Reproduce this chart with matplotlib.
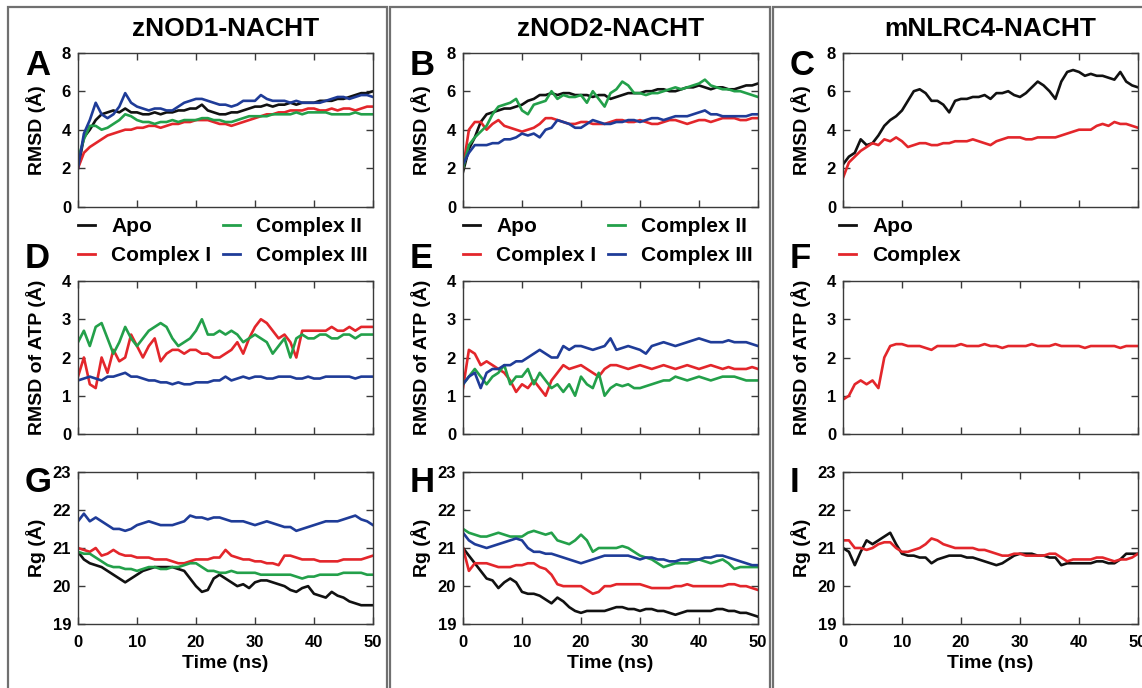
import numpy as np
import matplotlib
matplotlib.use("Agg")
import matplotlib.pyplot as plt
from matplotlib.patches import Rectangle
from matplotlib.lines import Line2D

plt.rcParams['font.family'] = ['Liberation Sans', 'DejaVu Sans']
plt.rcParams['font.weight'] = 'bold'

# ---------------- data (values read at 1 ns steps, 0..50 ns) ----------------
columns = ["zNOD1-NACHT", "zNOD2-NACHT", "mNLRC4-NACHT"]
letters = [["A", "B", "C"], ["D", "E", "F"], ["G", "H", "I"]]
ylabels = ["RMSD (Å)", "RMSD of ATP (Å)", "Rg (Å)"]
labels4 = ["Apo", "Complex I", "Complex II", "Complex III"]
labels2 = ["Apo", "Complex"]

A_apo = [2.0, 3.6, 4.0, 4.5, 4.8, 4.9, 5.0, 4.9, 5.1, 4.9, 4.9, 4.8, 4.8, 4.9, 4.8, 4.9, 4.9, 5.0, 5.0, 5.1, 5.1, 5.3, 5.0, 4.9, 4.8, 4.8, 4.9, 4.9, 5.0, 5.1, 5.2, 5.2, 5.3, 5.2, 5.3, 5.3, 5.4, 5.3, 5.4, 5.4, 5.4, 5.5, 5.5, 5.5, 5.6, 5.6, 5.7, 5.8, 5.9, 5.9, 6.0]
A_c1 = [2.0, 2.8, 3.1, 3.3, 3.5, 3.7, 3.8, 3.9, 4.0, 4.0, 4.1, 4.1, 4.2, 4.2, 4.1, 4.2, 4.3, 4.3, 4.4, 4.4, 4.5, 4.5, 4.5, 4.4, 4.3, 4.3, 4.2, 4.3, 4.4, 4.5, 4.6, 4.7, 4.8, 4.8, 4.9, 4.9, 5.0, 5.0, 5.0, 5.1, 5.1, 5.0, 5.0, 5.1, 5.0, 5.1, 5.1, 5.0, 5.1, 5.2, 5.2]
A_c2 = [2.5, 3.5, 4.2, 4.2, 4.0, 4.1, 4.3, 4.5, 4.8, 4.7, 4.5, 4.4, 4.4, 4.3, 4.4, 4.4, 4.5, 4.4, 4.5, 4.5, 4.5, 4.6, 4.6, 4.5, 4.5, 4.4, 4.4, 4.5, 4.6, 4.7, 4.7, 4.7, 4.7, 4.8, 4.8, 4.8, 4.8, 4.9, 4.8, 4.9, 4.9, 4.9, 4.9, 4.8, 4.8, 4.8, 4.8, 4.9, 4.8, 4.8, 4.8]
A_c3 = [2.0, 3.8, 4.5, 5.4, 4.8, 4.6, 4.8, 5.2, 5.9, 5.4, 5.2, 5.1, 5.0, 5.1, 5.1, 5.0, 5.0, 5.2, 5.4, 5.5, 5.6, 5.6, 5.5, 5.4, 5.3, 5.3, 5.2, 5.3, 5.5, 5.5, 5.5, 5.8, 5.6, 5.5, 5.5, 5.5, 5.4, 5.5, 5.4, 5.4, 5.4, 5.4, 5.5, 5.6, 5.7, 5.7, 5.6, 5.7, 5.8, 5.8, 5.7]

B_apo = [1.8, 3.0, 3.6, 4.4, 4.8, 4.9, 5.0, 5.1, 5.1, 5.2, 5.3, 5.5, 5.6, 5.8, 5.8, 5.9, 5.8, 5.9, 5.9, 5.8, 5.8, 5.8, 5.7, 5.8, 5.8, 5.6, 5.7, 5.8, 5.9, 5.9, 5.9, 6.0, 6.0, 6.1, 6.1, 6.0, 6.0, 6.1, 6.2, 6.2, 6.3, 6.2, 6.1, 6.2, 6.2, 6.1, 6.1, 6.2, 6.3, 6.3, 6.4]
B_c1 = [2.0, 4.0, 4.4, 4.4, 4.0, 4.3, 4.5, 4.2, 4.1, 4.0, 3.9, 4.0, 4.1, 4.3, 4.6, 4.6, 4.5, 4.4, 4.3, 4.3, 4.4, 4.4, 4.3, 4.3, 4.3, 4.4, 4.5, 4.5, 4.4, 4.4, 4.5, 4.4, 4.3, 4.3, 4.4, 4.5, 4.5, 4.4, 4.3, 4.4, 4.5, 4.5, 4.4, 4.5, 4.6, 4.6, 4.6, 4.5, 4.5, 4.6, 4.6]
B_c2 = [2.0, 3.2, 3.6, 3.9, 4.2, 4.8, 5.2, 5.3, 5.4, 5.6, 5.0, 4.8, 5.3, 5.4, 5.5, 6.0, 5.6, 5.8, 5.7, 5.7, 5.8, 5.4, 6.0, 5.6, 5.2, 5.9, 6.1, 6.5, 6.3, 5.9, 5.9, 5.8, 5.9, 5.9, 6.0, 6.1, 6.2, 6.1, 6.2, 6.3, 6.4, 6.6, 6.3, 6.2, 6.1, 6.1, 6.0, 6.0, 5.9, 5.8, 5.7]
B_c3 = [2.2, 2.8, 3.2, 3.2, 3.2, 3.3, 3.3, 3.5, 3.5, 3.6, 3.8, 3.7, 3.8, 3.6, 4.0, 4.1, 4.5, 4.4, 4.3, 4.1, 4.1, 4.3, 4.5, 4.4, 4.3, 4.3, 4.4, 4.4, 4.5, 4.5, 4.4, 4.5, 4.6, 4.6, 4.5, 4.6, 4.7, 4.7, 4.7, 4.8, 4.9, 5.0, 4.8, 4.8, 4.7, 4.7, 4.7, 4.7, 4.7, 4.8, 4.8]

C_apo = [2.2, 2.6, 2.8, 3.5, 3.2, 3.3, 3.7, 4.2, 4.5, 4.7, 5.0, 5.5, 6.0, 6.1, 5.9, 5.5, 5.5, 5.3, 4.9, 5.5, 5.6, 5.6, 5.7, 5.7, 5.8, 5.6, 5.9, 5.9, 6.0, 5.8, 5.7, 5.9, 6.2, 6.5, 6.3, 6.0, 5.6, 6.5, 7.0, 7.1, 7.0, 6.8, 6.9, 6.8, 6.8, 6.7, 6.6, 7.0, 6.5, 6.3, 6.2]
C_cx = [1.5, 2.3, 2.6, 2.9, 3.1, 3.3, 3.2, 3.5, 3.4, 3.6, 3.4, 3.1, 3.2, 3.3, 3.3, 3.2, 3.2, 3.3, 3.3, 3.4, 3.4, 3.4, 3.5, 3.4, 3.3, 3.2, 3.4, 3.5, 3.6, 3.6, 3.6, 3.5, 3.5, 3.6, 3.6, 3.6, 3.6, 3.7, 3.8, 3.9, 4.0, 4.0, 4.0, 4.2, 4.3, 4.2, 4.4, 4.3, 4.3, 4.2, 4.1]

D_c1 = [1.5, 2.0, 1.3, 1.2, 2.0, 1.6, 2.2, 1.9, 2.0, 2.6, 2.3, 2.0, 2.3, 2.5, 1.9, 2.1, 2.2, 2.2, 2.1, 2.2, 2.2, 2.1, 2.1, 2.0, 2.0, 2.1, 2.2, 2.4, 2.1, 2.5, 2.8, 3.0, 2.9, 2.7, 2.5, 2.6, 2.4, 2.0, 2.7, 2.7, 2.7, 2.7, 2.7, 2.8, 2.7, 2.7, 2.8, 2.7, 2.8, 2.8, 2.8]
D_c2 = [2.4, 2.7, 2.3, 2.8, 2.9, 2.5, 2.1, 2.4, 2.8, 2.5, 2.3, 2.5, 2.7, 2.8, 2.9, 2.8, 2.5, 2.3, 2.4, 2.5, 2.7, 3.0, 2.6, 2.6, 2.7, 2.6, 2.7, 2.6, 2.4, 2.5, 2.6, 2.5, 2.4, 2.1, 2.3, 2.5, 2.0, 2.5, 2.6, 2.5, 2.5, 2.6, 2.6, 2.5, 2.5, 2.6, 2.6, 2.5, 2.6, 2.6, 2.6]
D_c3 = [1.4, 1.45, 1.5, 1.45, 1.4, 1.5, 1.5, 1.55, 1.6, 1.5, 1.5, 1.45, 1.4, 1.4, 1.35, 1.35, 1.3, 1.35, 1.3, 1.3, 1.35, 1.35, 1.35, 1.4, 1.4, 1.5, 1.4, 1.45, 1.5, 1.45, 1.5, 1.5, 1.45, 1.45, 1.5, 1.5, 1.5, 1.45, 1.45, 1.5, 1.45, 1.45, 1.5, 1.5, 1.5, 1.5, 1.5, 1.45, 1.5, 1.5, 1.5]

E_c1 = [1.2, 2.2, 2.1, 1.8, 1.9, 1.8, 1.7, 1.6, 1.4, 1.1, 1.3, 1.2, 1.4, 1.2, 1.0, 1.4, 1.6, 1.8, 1.7, 1.75, 1.8, 1.7, 1.6, 1.5, 1.7, 1.8, 1.8, 1.75, 1.7, 1.75, 1.8, 1.75, 1.7, 1.75, 1.8, 1.75, 1.7, 1.75, 1.8, 1.75, 1.7, 1.75, 1.8, 1.75, 1.7, 1.75, 1.7, 1.7, 1.7, 1.75, 1.7]
E_c2 = [1.3, 1.5, 1.7, 1.5, 1.3, 1.5, 1.6, 1.8, 1.3, 1.5, 1.5, 1.7, 1.3, 1.6, 1.4, 1.2, 1.3, 1.1, 1.3, 1.0, 1.5, 1.3, 1.2, 1.6, 1.0, 1.2, 1.3, 1.25, 1.3, 1.2, 1.2, 1.25, 1.3, 1.35, 1.4, 1.4, 1.5, 1.45, 1.4, 1.45, 1.5, 1.45, 1.4, 1.45, 1.5, 1.5, 1.5, 1.45, 1.4, 1.4, 1.4]
E_c3 = [1.3, 1.5, 1.6, 1.2, 1.6, 1.7, 1.7, 1.8, 1.8, 1.9, 1.9, 2.0, 2.1, 2.2, 2.1, 2.0, 2.0, 2.3, 2.2, 2.3, 2.3, 2.25, 2.2, 2.25, 2.3, 2.5, 2.2, 2.25, 2.3, 2.25, 2.2, 2.1, 2.3, 2.35, 2.4, 2.35, 2.3, 2.35, 2.4, 2.45, 2.5, 2.45, 2.4, 2.4, 2.4, 2.45, 2.4, 2.4, 2.4, 2.35, 2.3]

F_cx = [0.9, 1.0, 1.3, 1.4, 1.3, 1.4, 1.2, 2.0, 2.3, 2.35, 2.35, 2.3, 2.3, 2.3, 2.25, 2.2, 2.3, 2.3, 2.3, 2.3, 2.35, 2.3, 2.3, 2.3, 2.35, 2.3, 2.3, 2.25, 2.3, 2.3, 2.3, 2.3, 2.35, 2.3, 2.3, 2.3, 2.35, 2.3, 2.3, 2.3, 2.3, 2.25, 2.3, 2.3, 2.3, 2.3, 2.3, 2.25, 2.3, 2.3, 2.3]

G_apo = [20.9, 20.7, 20.6, 20.55, 20.5, 20.4, 20.3, 20.2, 20.1, 20.2, 20.3, 20.4, 20.45, 20.5, 20.5, 20.5, 20.5, 20.45, 20.4, 20.2, 20.0, 19.85, 19.9, 20.2, 20.3, 20.2, 20.1, 20.0, 20.05, 19.95, 20.1, 20.15, 20.15, 20.1, 20.05, 20.0, 19.9, 19.85, 19.95, 20.0, 19.8, 19.75, 19.7, 19.85, 19.75, 19.7, 19.6, 19.55, 19.5, 19.5, 19.5]
G_c1 = [21.0, 20.95, 20.9, 21.0, 20.8, 20.85, 20.95, 20.85, 20.8, 20.8, 20.75, 20.75, 20.75, 20.7, 20.7, 20.7, 20.65, 20.6, 20.6, 20.65, 20.7, 20.7, 20.7, 20.75, 20.75, 20.95, 20.8, 20.75, 20.7, 20.7, 20.65, 20.65, 20.6, 20.6, 20.55, 20.8, 20.8, 20.75, 20.7, 20.7, 20.7, 20.65, 20.65, 20.65, 20.65, 20.7, 20.7, 20.7, 20.7, 20.75, 20.8]
G_c2 = [20.9, 20.85, 20.85, 20.75, 20.65, 20.55, 20.5, 20.5, 20.45, 20.45, 20.4, 20.45, 20.5, 20.5, 20.45, 20.45, 20.5, 20.5, 20.55, 20.6, 20.6, 20.5, 20.4, 20.4, 20.35, 20.35, 20.4, 20.35, 20.35, 20.35, 20.35, 20.3, 20.3, 20.3, 20.3, 20.3, 20.3, 20.25, 20.2, 20.25, 20.25, 20.3, 20.3, 20.3, 20.3, 20.35, 20.35, 20.35, 20.35, 20.3, 20.3]
G_c3 = [21.7, 21.9, 21.7, 21.8, 21.7, 21.6, 21.5, 21.5, 21.45, 21.5, 21.6, 21.65, 21.7, 21.65, 21.6, 21.6, 21.6, 21.65, 21.7, 21.85, 21.8, 21.8, 21.75, 21.8, 21.8, 21.75, 21.7, 21.7, 21.7, 21.65, 21.6, 21.65, 21.7, 21.65, 21.6, 21.55, 21.55, 21.45, 21.5, 21.55, 21.6, 21.65, 21.7, 21.7, 21.7, 21.75, 21.8, 21.85, 21.75, 21.7, 21.6]

H_apo = [21.0, 20.8, 20.6, 20.4, 20.2, 20.15, 19.95, 20.1, 20.2, 20.1, 19.85, 19.8, 19.8, 19.75, 19.65, 19.55, 19.7, 19.6, 19.45, 19.35, 19.3, 19.35, 19.35, 19.35, 19.35, 19.4, 19.45, 19.45, 19.4, 19.4, 19.35, 19.4, 19.4, 19.35, 19.35, 19.3, 19.25, 19.3, 19.35, 19.35, 19.35, 19.35, 19.35, 19.4, 19.4, 19.35, 19.35, 19.3, 19.3, 19.25, 19.2]
H_c1 = [21.0, 20.4, 20.6, 20.6, 20.6, 20.55, 20.5, 20.5, 20.5, 20.55, 20.55, 20.6, 20.6, 20.5, 20.45, 20.3, 20.05, 20.0, 20.0, 20.0, 20.0, 19.9, 19.8, 19.85, 20.0, 20.0, 20.05, 20.05, 20.05, 20.05, 20.05, 20.0, 19.95, 19.95, 19.95, 19.95, 20.0, 20.0, 20.05, 20.0, 20.0, 20.0, 20.0, 20.0, 20.0, 20.05, 20.05, 20.0, 20.0, 19.95, 19.9]
H_c2 = [21.5, 21.4, 21.35, 21.3, 21.3, 21.35, 21.4, 21.35, 21.3, 21.3, 21.3, 21.4, 21.45, 21.4, 21.35, 21.4, 21.2, 21.15, 21.1, 21.2, 21.35, 21.2, 20.9, 21.0, 21.0, 21.0, 21.0, 21.05, 21.0, 20.9, 20.8, 20.75, 20.7, 20.6, 20.5, 20.55, 20.6, 20.6, 20.6, 20.65, 20.7, 20.65, 20.6, 20.65, 20.7, 20.6, 20.45, 20.5, 20.5, 20.5, 20.5]
H_c3 = [21.4, 21.2, 21.1, 21.05, 21.0, 21.05, 21.1, 21.15, 21.2, 21.25, 21.2, 21.0, 20.9, 20.9, 20.85, 20.85, 20.8, 20.75, 20.7, 20.65, 20.6, 20.65, 20.7, 20.75, 20.8, 20.8, 20.8, 20.8, 20.8, 20.75, 20.7, 20.75, 20.75, 20.7, 20.7, 20.65, 20.65, 20.7, 20.7, 20.7, 20.7, 20.75, 20.75, 20.8, 20.8, 20.75, 20.7, 20.65, 20.6, 20.55, 20.55]

I_apo = [21.0, 20.9, 20.55, 20.9, 21.2, 21.1, 21.2, 21.3, 21.4, 21.1, 20.85, 20.8, 20.8, 20.75, 20.75, 20.6, 20.7, 20.75, 20.8, 20.8, 20.8, 20.75, 20.75, 20.7, 20.65, 20.6, 20.55, 20.6, 20.7, 20.8, 20.85, 20.85, 20.85, 20.8, 20.8, 20.75, 20.75, 20.55, 20.6, 20.6, 20.6, 20.6, 20.6, 20.65, 20.65, 20.6, 20.6, 20.7, 20.85, 20.85, 20.85]
I_cx = [21.2, 21.2, 21.0, 21.0, 20.95, 21.0, 21.1, 21.15, 21.15, 21.0, 20.9, 20.9, 20.95, 21.0, 21.1, 21.25, 21.2, 21.1, 21.05, 21.0, 21.0, 21.0, 21.0, 20.95, 20.95, 20.9, 20.85, 20.8, 20.8, 20.85, 20.85, 20.8, 20.8, 20.8, 20.8, 20.85, 20.85, 20.75, 20.65, 20.7, 20.7, 20.7, 20.7, 20.75, 20.75, 20.7, 20.65, 20.7, 20.7, 20.75, 20.85]

BLACK, RED, GREEN, BLUE = "#111111", "#e3262b", "#23a04a", "#1f3c98"

panels = [
    [[(A_apo, BLACK), (A_c1, RED), (A_c2, GREEN), (A_c3, BLUE)],
     [(B_apo, BLACK), (B_c1, RED), (B_c2, GREEN), (B_c3, BLUE)],
     [(C_apo, BLACK), (C_cx, RED)]],
    [[(D_c1, RED), (D_c2, GREEN), (D_c3, BLUE)],
     [(E_c1, RED), (E_c2, GREEN), (E_c3, BLUE)],
     [(F_cx, RED)]],
    [[(G_apo, BLACK), (G_c1, RED), (G_c2, GREEN), (G_c3, BLUE)],
     [(H_apo, BLACK), (H_c1, RED), (H_c2, GREEN), (H_c3, BLUE)],
     [(I_apo, BLACK), (I_cx, RED)]],
]
ylims = [(0, 8), (0, 4), (19, 23)]
yticks = [[0, 2, 4, 6, 8], [0, 1, 2, 3, 4], [19, 20, 21, 22, 23]]
xticks = [0, 10, 20, 30, 40, 50]

# ---------------- layout ----------------
W, H = 1142, 688
fig = plt.figure(figsize=(W / 100, H / 100), dpi=100)

col_left = [78, 463, 843]
ax_w = 295
row_top = [52.7, 281, 471.7]
row_bot = [206.7, 434, 624.3]
letter_base = [75, 268, 492]
SPINE = "#3a3a3a"

# column frames
for x0, x1 in [(7.5, 387), (390, 770), (773, 1170)]:
    fig.patches.append(Rectangle((x0 / W, -0.05), (x1 - x0) / W, 1.05 - 7 / H,
                                 transform=fig.transFigure, fill=False,
                                 edgecolor="#707070", lw=1.6))

for r in range(3):
    for c in range(3):
        l = col_left[c]
        ax = fig.add_axes([l / W, 1 - row_bot[r] / H, ax_w / W,
                           (row_bot[r] - row_top[r]) / H])
        for vals, col in panels[r][c]:
            t = np.linspace(0, 50, len(vals))
            ax.plot(t, vals, color=col, lw=1.9)
        ax.set_xlim(0, 50)
        ax.set_ylim(*ylims[r])
        ax.set_yticks(yticks[r])
        ax.set_xticks(xticks)
        ax.tick_params(direction="in", length=5, width=1, top=True, right=True,
                       color=SPINE, labelsize=12, pad=5)
        ax.tick_params(axis="x", pad=8)
        for s in ax.spines.values():
            s.set_color(SPINE)
            s.set_linewidth(1)
        if r < 2:
            ax.set_xticklabels([])
        else:
            ax.set_xlabel("Time (ns)", fontsize=14, fontweight="bold", labelpad=3)
        ax.set_ylabel(ylabels[r], fontsize=14, fontweight="bold")
        ax.yaxis.set_label_coords(-0.108, 0.5)
        fig.text((l - 53) / W, 1 - letter_base[r] / H, letters[r][c],
                 fontsize=25, fontweight="bold", ha="left", va="baseline")
        if r == 0:
            fig.text((l + ax_w / 2) / W, 1 - 29 / H, columns[c], fontsize=19,
                     fontweight="bold", ha="center", va="center")

# legends between rows 1 and 2
def handles(cols, labs):
    return [Line2D([], [], color=cc, lw=2) for cc in cols], labs

LEG_TOP = 217
for c in range(2):
    h, lb = handles([BLACK, RED, GREEN, BLUE], labels4)
    fig.legend(h, lb, loc="upper left",
               bbox_to_anchor=((col_left[c]) / W, 1 - LEG_TOP / H),
               ncol=2, frameon=False, prop={"size": 15, "weight": "bold"},
               handlelength=0.8, handletextpad=0.8, columnspacing=0.55,
               labelspacing=0.5, borderpad=0, borderaxespad=0)
h, lb = handles([BLACK, RED], labels2)
fig.legend(h, lb, loc="upper left", bbox_to_anchor=((col_left[2] - 4) / W, 1 - LEG_TOP / H),
           ncol=1, frameon=False, prop={"size": 15, "weight": "bold"},
           handlelength=0.8, handletextpad=0.8, labelspacing=0.5,
           borderpad=0, borderaxespad=0)

fig.savefig("out.png", dpi=100)
